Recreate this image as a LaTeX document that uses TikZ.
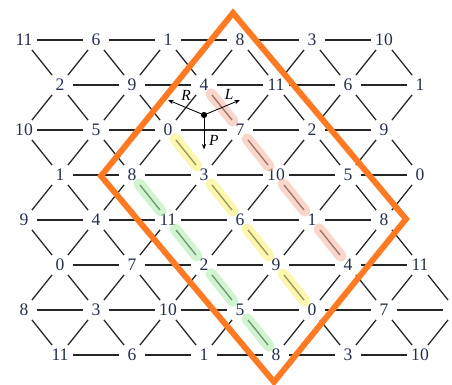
\documentclass[tikz,border=0pt]{standalone}
\usepackage{fontspec}
\setmainfont{Liberation Serif}
\usepackage{tikz}
\usetikzlibrary{arrows.meta, calc}
\definecolor{pcnum}{RGB}{38,48,78}
\definecolor{boxorange}{RGB}{255,122,34}
\definecolor{hlpink}{RGB}{245,178,158}
\definecolor{hlyellow}{RGB}{248,240,110}
\definecolor{hlgreen}{RGB}{168,235,168}

\begin{document}
\begin{tikzpicture}[
    pc/.style={circle, minimum size=0.62cm, inner sep=0pt, text=pcnum, font=\fontsize{12.5}{14}\selectfont},
    edge/.style={line width=0.9pt, black!85},
    hl/.style={line width=8pt, line cap=round, opacity=0.55},
    plr/.style={line width=0.6pt, -{Stealth[length=4pt, width=3pt]}},
    lbl/.style={font=\itshape\fontsize{11}{13}\selectfont}
]
\def\dx{1.8}
\def\dy{1.125}
\useasboundingbox (0,0) rectangle (11.3,-9.625);
% pitch classes, row by row
\foreach \r/\row in {0/{11,6,1,8,3,10}, 1/{2,9,4,11,6,1}, 2/{10,5,0,7,2,9}, 3/{1,8,3,10,5,0},
                     4/{9,4,11,6,1,8}, 5/{0,7,2,9,4,11}, 6/{8,3,10,5,0,7,2}, 7/{11,6,1,8,3,10}}
  \foreach \v [count=\c from 0] in \row {
    \pgfmathsetmacro{\xo}{0.6+0.9*mod(\r,2)}
    \node[pc] (n-\r-\c) at ({\xo+\c*\dx},{-1-\r*\dy}) {\v};
  }
% horizontal edges
\foreach \r in {0,...,7}
  \foreach \c in {0,...,4} {
    \pgfmathtruncatemacro{\cn}{\c+1}
    \draw[edge] (n-\r-\c) -- (n-\r-\cn);
  }
% diagonals from even rows
\foreach \r in {0,2,4,6}
  \foreach \c in {0,...,5} {
    \pgfmathtruncatemacro{\rn}{\r+1}
    \pgfmathtruncatemacro{\cp}{\c-1}
    \draw[edge] (n-\r-\c) -- (n-\rn-\c);
    \ifnum\c>0 \draw[edge] (n-\r-\c) -- (n-\rn-\cp); \fi
  }
% diagonals from odd rows
\foreach \r in {1,3,5}
  \foreach \c in {0,...,5} {
    \pgfmathtruncatemacro{\rn}{\r+1}
    \pgfmathtruncatemacro{\cn}{\c+1}
    \draw[edge] (n-\r-\c) -- (n-\rn-\c);
    \ifnum\c<5 \draw[edge] (n-\r-\c) -- (n-\rn-\cn); \fi
  }
\draw[edge] (n-6-5) -- (n-6-6);
\draw[edge] (n-5-5) -- (n-6-6);
\draw[edge] (n-6-6) -- (n-7-5);
% highlighted chains
\foreach \a/\b/\col in {n-1-2/n-2-3/hlpink, n-2-3/n-3-3/hlpink, n-3-3/n-4-4/hlpink, n-4-4/n-5-4/hlpink,
                        n-2-2/n-3-2/hlyellow, n-3-2/n-4-3/hlyellow, n-4-3/n-5-3/hlyellow, n-5-3/n-6-4/hlyellow,
                        n-3-1/n-4-2/hlgreen, n-4-2/n-5-2/hlgreen, n-5-2/n-6-3/hlgreen, n-6-3/n-7-3/hlgreen}
  \draw[hl, color=\col] ($(\a)!0.2!(\b)$) -- ($(\a)!0.8!(\b)$);
% P, L, R moves
\coordinate (ctr) at (barycentric cs:n-2-2=1,n-1-2=1,n-2-3=1);
\coordinate (rtgt) at (barycentric cs:n-1-1=1,n-1-2=1,n-2-2=1);
\coordinate (ltgt) at (barycentric cs:n-1-2=1,n-1-3=1,n-2-3=1);
\coordinate (ptgt) at (barycentric cs:n-2-2=1,n-2-3=1,n-3-2=1);
\draw[plr] (ctr) -- (rtgt) node[lbl, midway, above=1pt] {R};
\draw[plr] (ctr) -- (ltgt) node[lbl, pos=0.7, above] {L};
\draw[plr] (ctr) -- ($(ctr)!1.15!(ptgt)$) node[lbl, pos=0.75, right] {P};
\fill (ctr) circle (2.2pt);
% frame
\draw[boxorange, line width=4.2pt] (5.825,-0.325) -- (2.525,-4.4) -- (6.85,-9.55) -- (10.15,-5.475) -- cycle;
\end{tikzpicture}
\end{document}
